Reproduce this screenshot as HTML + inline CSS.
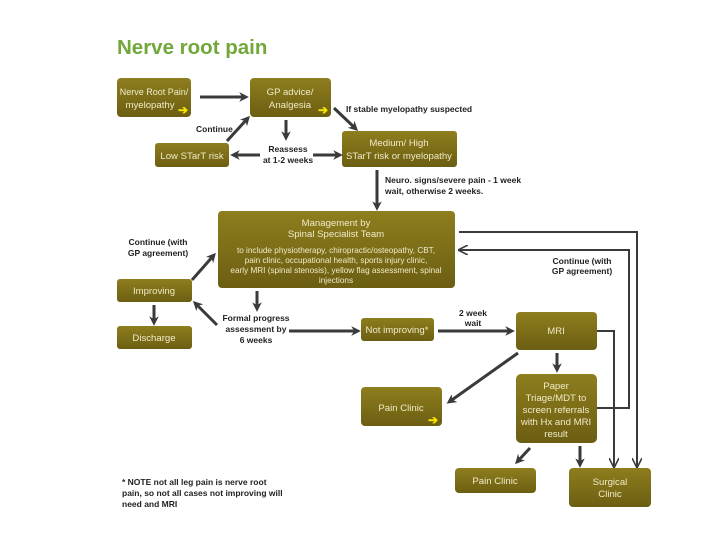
<!DOCTYPE html>
<html><head><meta charset="utf-8"><style>
html,body{margin:0;padding:0;background:#fff;}
svg{display:block;font-family:"Liberation Sans",sans-serif;}
.b{fill:url(#g);}
.t{fill:#f0ebc8;font-size:9.6px;text-anchor:middle;}
.s{fill:#f0ebc8;font-size:8.2px;text-anchor:middle;}
.l{fill:#222;font-size:8.5px;font-weight:bold;}
.c{text-anchor:middle;}
.a{stroke:#3a3a3a;stroke-width:3;fill:none;marker-end:url(#m);}
.n{stroke:#3a3a3a;stroke-width:2;fill:none;}
.y{fill:#f5e600;font-size:12px;font-weight:bold;}
</style></head><body>
<svg width="720" height="540" viewBox="0 0 720 540">
<defs>
<linearGradient id="g" x1="0" y1="0" x2="0" y2="1"><stop offset="0" stop-color="#8e7e1e"/><stop offset="1" stop-color="#6c5e12"/></linearGradient>
<marker id="m" viewBox="0 0 10 10" refX="7" refY="5" markerWidth="3.2" markerHeight="3.2" orient="auto"><path d="M0,0 L10,5 L0,10 L3,5z" fill="#3a3a3a"/></marker>
<marker id="m2" viewBox="0 0 10 10" refX="8" refY="5" markerWidth="5" markerHeight="5" orient="auto"><path d="M0,0 L10,5 L0,10" fill="none" stroke="#3a3a3a" stroke-width="1.6"/></marker>
</defs>
<text x="117" y="54" font-size="20.5" font-weight="bold" fill="#72a83a">Nerve root pain</text>

<rect class="b" x="117" y="78" width="74" height="39" rx="4"/>
<text class="t" x="154" y="95" style="font-size:9px">Nerve Root Pain/</text><text class="t" x="150" y="108">myelopathy</text>
<text class="y" x="178" y="114">➔</text>
<rect class="b" x="250" y="78" width="81" height="39" rx="4"/>
<text class="t" x="290" y="95">GP advice/</text><text class="t" x="290" y="108">Analgesia</text>
<text class="y" x="318" y="114">➔</text>
<rect class="b" x="155" y="143" width="74" height="24" rx="3"/>
<text class="t" x="192" y="159">Low STarT risk</text>
<rect class="b" x="342" y="131" width="115" height="36" rx="3"/>
<text class="t" x="399" y="146">Medium/ High</text><text class="t" x="399" y="159">STarT risk or myelopathy</text>
<rect class="b" x="218" y="211" width="237" height="77" rx="4"/>
<text class="t" x="336" y="226">Management by</text><text class="t" x="336" y="237">Spinal Specialist Team</text>
<text class="s" x="336" y="253">to include physiotherapy, chiropractic/osteopathy, CBT,</text>
<text class="s" x="336" y="263">pain clinic, occupational health, sports injury clinic,</text>
<text class="s" x="336" y="273">early MRI (spinal stenosis), yellow flag assessment, spinal</text>
<text class="s" x="336" y="283">injections</text>
<rect class="b" x="117" y="279" width="75" height="23" rx="3"/>
<text class="t" x="154" y="294">Improving</text>
<rect class="b" x="117" y="326" width="75" height="23" rx="3"/>
<text class="t" x="154" y="341">Discharge</text>
<rect class="b" x="361" y="318" width="73" height="23" rx="3"/>
<text class="t" x="397" y="333">Not improving*</text>
<rect class="b" x="516" y="312" width="81" height="38" rx="4"/>
<text class="t" x="556" y="334">MRI</text>
<rect class="b" x="516" y="374" width="81" height="69" rx="5"/>
<text class="t" x="556" y="389">Paper</text><text class="t" x="556" y="401">Triage/MDT to</text><text class="t" x="556" y="413">screen referrals</text><text class="t" x="556" y="425">with Hx and MRI</text><text class="t" x="556" y="437">result</text>
<rect class="b" x="361" y="387" width="81" height="39" rx="4"/>
<text class="t" x="401" y="411">Pain Clinic</text>
<text class="y" x="428" y="424">➔</text>
<rect class="b" x="455" y="468" width="81" height="25" rx="4"/>
<text class="t" x="495" y="484">Pain Clinic</text>
<rect class="b" x="569" y="468" width="82" height="39" rx="4"/>
<text class="t" x="610" y="485">Surgical</text><text class="t" x="610" y="497">Clinic</text>

<line class="a" x1="200" y1="97" x2="246" y2="97"/>
<line class="a" x1="286" y1="120" x2="286" y2="138"/>
<line class="a" x1="334" y1="108" x2="356" y2="129"/>
<line class="a" x1="227" y1="141" x2="248" y2="118"/>
<line class="a" x1="260" y1="155" x2="233" y2="155"/>
<line class="a" x1="313" y1="155" x2="340" y2="155"/>
<line class="a" x1="377" y1="170" x2="377" y2="208"/>
<line class="a" x1="192" y1="280" x2="214" y2="255"/>
<line class="a" x1="154" y1="305" x2="154" y2="323"/>
<line class="a" x1="257" y1="291" x2="257" y2="309"/>
<line class="a" x1="217" y1="325" x2="195" y2="303"/>
<line class="a" x1="289" y1="331" x2="358" y2="331"/>
<line class="a" x1="438" y1="331" x2="512" y2="331"/>
<line class="a" x1="557" y1="353" x2="557" y2="370"/>
<line class="a" x1="518" y1="353" x2="449" y2="402"/>
<line class="a" x1="530" y1="448" x2="517" y2="462"/>
<line class="a" x1="580" y1="446" x2="580" y2="465"/>
<polyline class="n" points="459,232 637,232 637,466" marker-end="url(#m2)"/>
<polyline class="n" points="597,408 629,408 629,250 460,250" marker-end="url(#m2)"/>
<polyline class="n" points="597,331 614,331 614,466" marker-end="url(#m2)"/>

<text class="l" x="346" y="112">If stable myelopathy suspected</text>
<text class="l" x="196" y="132">Continue</text>
<text class="l c" x="288" y="152">Reassess</text><text class="l c" x="288" y="163">at 1-2 weeks</text>
<text class="l" x="385" y="183">Neuro. signs/severe pain - 1 week</text>
<text class="l" x="385" y="194">wait, otherwise 2 weeks.</text>
<text class="l c" x="158" y="245">Continue (with</text><text class="l c" x="158" y="256">GP agreement)</text>
<text class="l c" x="256" y="321">Formal progress</text><text class="l c" x="256" y="332">assessment by</text><text class="l c" x="256" y="343">6 weeks</text>
<text class="l c" x="473" y="316">2 week</text><text class="l c" x="473" y="326">wait</text>
<text class="l c" x="582" y="264">Continue (with</text><text class="l c" x="582" y="274">GP agreement)</text>
<text class="l" x="122" y="485">* NOTE not all leg pain is nerve root</text>
<text class="l" x="122" y="496">pain, so not all cases not improving will</text>
<text class="l" x="122" y="507">need and MRI</text>
</svg>
</body></html>
